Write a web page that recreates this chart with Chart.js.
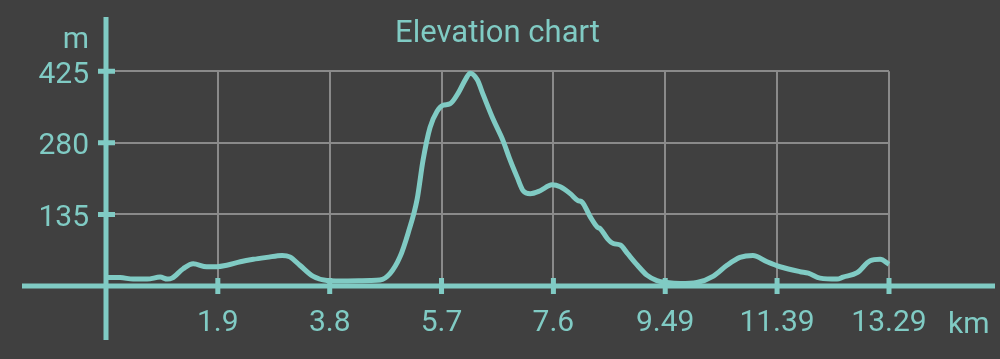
<!DOCTYPE html>
<html>
<head>
<meta charset="utf-8">
<script src="https://cdn.jsdelivr.net/npm/chart.js@4"></script>
<style>
  html, body { margin: 0; padding: 0; background: #404040; }
  #wrap { width: 1000px; height: 359px; }
</style>
</head>
<body>
<div id="wrap"><canvas id="elevChart" width="1000" height="359"></canvas></div>
<script>
// distance along the track (km) and elevation (m)
const distKm = [0, 0.24, 0.46, 0.70, 0.92, 1.04, 1.12, 1.31, 1.48, 1.71, 1.88, 2.05, 2.28, 2.50, 2.73, 2.99, 3.12, 3.29, 3.51, 3.75, 3.97,
  4.48, 4.65, 4.82, 4.99, 5.13, 5.28, 5.38, 5.50, 5.62, 5.72, 5.84, 5.98, 6.10, 6.18, 6.30, 6.40, 6.57, 6.74, 6.85, 6.98,
  7.08, 7.20, 7.37, 7.57, 7.71, 7.88, 8.01, 8.08, 8.22, 8.34, 8.39, 8.51, 8.61, 8.73, 8.85, 9.02, 9.18, 9.35, 9.52, 9.75,
  10.03, 10.31, 10.54, 10.76, 10.98, 11.22, 11.44, 11.78, 11.92, 12.12, 12.41, 12.51, 12.75, 12.97, 13.14, 13.29];
const elevM = [7, 7, 4, 4, 8, 4, 6, 25, 35, 29, 29, 32, 39, 44, 48, 52, 49, 32, 10, 1, 0,
  1, 2, 15, 49, 98, 165, 244, 311, 344, 356, 359, 381, 408, 421, 408, 378, 328, 284, 248, 210,
  183, 177, 183, 195, 191, 177, 163, 160, 130, 109, 106, 86, 76, 73, 56, 32, 12, 1, -3, -5,
  -3, 10, 32, 48, 52, 39, 29, 19, 16, 6, 4, 8, 17, 41, 44, 34];

// axis ticks
const xTickVals = [1.898, 3.797, 5.695, 7.594, 9.492, 11.39, 13.29];
const xTickLabels = ["1.9", "3.8", "5.7", "7.6", "9.49", "11.39", "13.29"];
const yTickVals = [-10, 135, 280, 425];

const teal = "#80cbc4";
const gridCol = "#8a8a8a";

// axis lines, tick marks and unit labels
const axesPlugin = {
  id: "axesPlugin",
  beforeDraw(chart) {
    const c = chart.ctx;
    c.save();
    c.fillStyle = "#404040";
    c.fillRect(0, 0, chart.width, chart.height);
    c.restore();
  },
  afterDraw(chart) {
    const c = chart.ctx;
    const xs = chart.scales.x, ys = chart.scales.y;
    const x0 = xs.getPixelForValue(0);
    const y0 = ys.getPixelForValue(-10);
    c.save();
    c.strokeStyle = teal;
    c.lineWidth = 5;
    c.beginPath();
    c.moveTo(x0, 17); c.lineTo(x0, 340);
    c.moveTo(22, y0); c.lineTo(995, y0);
    c.stroke();
    c.beginPath();
    yTickVals.slice(1).forEach(v => {
      const y = ys.getPixelForValue(v);
      c.moveTo(x0 - 8, y); c.lineTo(x0 + 9, y);
    });
    xTickVals.forEach(v => {
      const x = xs.getPixelForValue(v);
      c.moveTo(x, y0 - 8); c.lineTo(x, y0 + 8);
    });
    c.stroke();
    c.fillStyle = teal;
    c.font = "30px Roboto";
    c.textBaseline = "alphabetic";
    c.textAlign = "right";
    c.fillText("m", 89, 48);
    c.textAlign = "left";
    c.fillText("km", 948, 333);
    c.restore();
  }
};

new Chart("elevChart", {
  type: "line",
  data: {
    datasets: [{
      data: distKm.map((d, i) => ({ x: d, y: elevM[i] })),
      borderColor: teal,
      borderWidth: 5,
      pointRadius: 0,
      cubicInterpolationMode: "monotone",
      fill: false,
      clip: false
    }]
  },
  options: {
    responsive: false,
    animation: false,
    layout: { padding: { left: 0, right: 111, top: 0, bottom: 0 } },
    plugins: {
      legend: { display: false },
      tooltip: { enabled: false },
      title: {
        display: true,
        text: "Elevation chart",
        color: teal,
        fullSize: false,
        font: { family: "Roboto", size: 31, weight: "normal", lineHeight: 1.2 },
        padding: { top: 16, bottom: 18 }
      }
    },
    scales: {
      x: {
        type: "linear",
        min: 0,
        max: 13.29,
        afterBuildTicks: s => { s.ticks = xTickVals.map(v => ({ value: v })); },
        afterFit: s => { s.height = 73; },
        border: { display: false },
        grid: { color: gridCol, lineWidth: 2, drawTicks: false },
        ticks: {
          color: teal,
          padding: 19,
          maxRotation: 0,
          font: { family: "Roboto", size: 30 },
          callback: (v, i) => xTickLabels[i]
        }
      },
      y: {
        min: -10,
        max: 425,
        afterBuildTicks: s => { s.ticks = yTickVals.map(v => ({ value: v })); },
        afterFit: s => { s.width = 106; },
        border: { display: false },
        grid: { color: gridCol, lineWidth: 2, drawTicks: false },
        ticks: {
          color: teal,
          padding: 17,
          labelOffset: 4,
          font: { family: "Roboto", size: 30 },
          callback: v => (v === -10 ? "" : String(v))
        }
      }
    }
  },
  plugins: [axesPlugin]
});
</script>
</body>
</html>
